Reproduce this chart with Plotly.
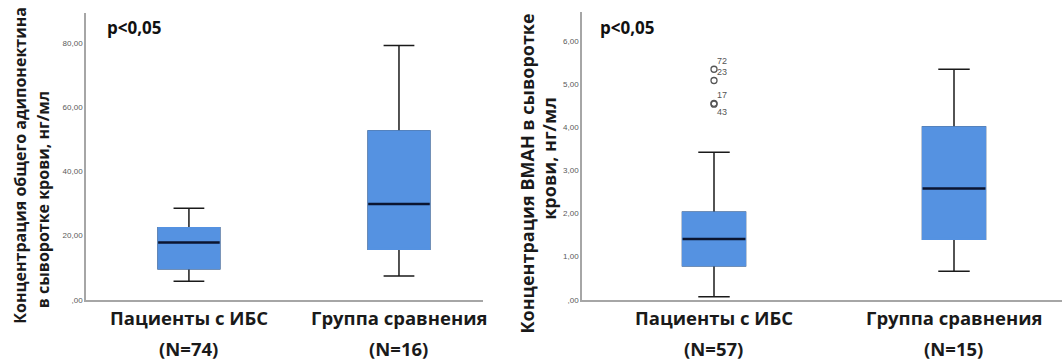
import plotly.graph_objects as go

# Group labels (two lines each)
groups_left = ["Пациенты с ИБС", "Группа сравнения"]
n_left = ["(N=74)", "(N=16)"]
groups_right = ["Пациенты с ИБС", "Группа сравнения"]
n_right = ["(N=57)", "(N=15)"]

# Total adiponectin, ng/ml: box statistics per group
adipo_low = [5.8, 7.4]
adipo_q1 = [9.7, 15.7]
adipo_med = [17.8, 29.8]
adipo_q3 = [22.4, 52.5]
adipo_high = [28.5, 79.1]

# VMAN, ng/ml: box statistics per group
vman_low = [0.07, 0.66]
vman_q1 = [0.79, 1.40]
vman_med = [1.41, 2.58]
vman_q3 = [2.03, 4.00]
vman_high = [3.42, 5.34]

# Outliers in the first VMAN group with their case numbers
vman_out_vals = [5.34, 5.08, 4.55, 4.53]
vman_out_ids = ["72", "23", "17", "43"]
vman_out_shift = [8, 8, 8, -8]

# Axis ticks
adipo_ticks = [0, 20, 40, 60, 80]
adipo_ticktext = [",00", "20,00", "40,00", "60,00", "80,00"]
vman_ticks = [0, 1, 2, 3, 4, 5, 6]
vman_ticktext = [",00", "1,00", "2,00", "3,00", "4,00", "5,00", "6,00"]

W, H = 1062, 363
BLUE = "#5592e1"
MEDIAN = "#0b1530"
AXIS = "#a6a6a6"
LABEL_FONT = "Open Sans"

fig = go.Figure()


def add_boxes(xa, ya, low, q1, med, q3, high, width):
    xs = [0, 1]
    # whiskers, caps and box
    fig.add_trace(go.Box(
        x=xs, q1=q1, median=med, q3=q3, lowerfence=low, upperfence=high,
        xaxis=xa, yaxis=ya, width=width, whiskerwidth=0.5,
        fillcolor=BLUE, line=dict(color="#1a1a1a", width=1.5),
        boxpoints=False, hoverinfo="skip", showlegend=False))
    # flat blue body over the outline
    fig.add_trace(go.Box(
        x=xs, q1=q1, median=q1, q3=q3, lowerfence=q1, upperfence=q3,
        xaxis=xa, yaxis=ya, width=width, whiskerwidth=0,
        fillcolor=BLUE, line=dict(color=BLUE, width=1.5),
        boxpoints=False, hoverinfo="skip", showlegend=False))
    # median bar
    fig.add_trace(go.Box(
        x=xs, q1=med, median=med, q3=med, lowerfence=med, upperfence=med,
        xaxis=xa, yaxis=ya, width=width, whiskerwidth=0,
        fillcolor=MEDIAN, line=dict(color=MEDIAN, width=2.5),
        boxpoints=False, hoverinfo="skip", showlegend=False))


add_boxes("x", "y", adipo_low, adipo_q1, adipo_med, adipo_q3, adipo_high, 0.293)
add_boxes("x2", "y2", vman_low, vman_q1, vman_med, vman_q3, vman_high, 0.262)

fig.add_trace(go.Scatter(
    x=[0] * len(vman_out_vals), y=vman_out_vals, xaxis="x2", yaxis="y2",
    mode="markers", marker=dict(symbol="circle-open", size=6,
                                color="#555555", line=dict(width=1.3)),
    hoverinfo="skip", showlegend=False))

annotations = []
for val, cid, sh in zip(vman_out_vals, vman_out_ids, vman_out_shift):
    annotations.append(dict(
        x=0, y=val, xref="x2", yref="y2", text=cid, showarrow=False,
        xshift=8, yshift=sh, font=dict(family="Arial", size=9, color="#555555")))

label_font = dict(family=LABEL_FONT, size=18.5, color="#1a1a1a", weight=700)
for xa, names, ns in (("x", groups_left, n_left), ("x2", groups_right, n_right)):
    for i, (name, n) in enumerate(zip(names, ns)):
        annotations.append(dict(x=i, y=1 - 321.5 / H, xref=xa, yref="paper",
                                text=name, showarrow=False, yanchor="middle",
                                font=label_font))
        annotations.append(dict(x=i, y=1 - 353 / H, xref=xa, yref="paper",
                                text=n, showarrow=False, yanchor="middle",
                                font=label_font))

for text, px, py, size in (
        ("Концентрация общего адипонектина", 20, 168, 16),
        ("в сыворотке крови, нг/мл", 43, 203, 16),
        ("Концентрация ВМАН в сыворотке", 527, 176, 18),
        ("крови, нг/мл", 549, 161, 18)):
    annotations.append(dict(x=px / W, y=1 - py / H, xref="paper", yref="paper",
                            text=text, showarrow=False, textangle=-90,
                            xanchor="center", yanchor="middle",
                            font=dict(family=LABEL_FONT, size=size,
                                      color="#1a1a1a", weight=700)))

for px in (105, 598):
    annotations.append(dict(x=px / W, y=1 - 28 / H, xref="paper", yref="paper",
                            text="p<0,05", showarrow=False, xanchor="left",
                            yanchor="middle",
                            font=dict(family=LABEL_FONT, size=17,
                                      color="#111111", weight=700)))

common_x = dict(showgrid=False, zeroline=False, showticklabels=False,
                showline=True, linecolor=AXIS, linewidth=1.5, ticks="")
common_y = dict(showgrid=False, zeroline=False, showline=True, linecolor=AXIS,
                linewidth=1.5, ticks="",
                tickfont=dict(family="Arial", size=8, color="#5a5a5a"))

fig.update_layout(
    width=W, height=H, margin=dict(l=0, r=0, t=0, b=0),
    paper_bgcolor="white", plot_bgcolor="white", boxmode="overlay",
    xaxis=dict(common_x, domain=[86 / W, 483 / W], range=[-0.49, 1.40],
               anchor="y"),
    yaxis=dict(common_y, domain=[1 - 304 / H, 1 - 13 / H], range=[0, 89.3],
               tickvals=adipo_ticks, ticktext=adipo_ticktext, anchor="x"),
    xaxis2=dict(common_x, domain=[582 / W, 1.0], range=[-0.55, 1.45],
                anchor="y2"),
    yaxis2=dict(common_y, domain=[1 - 304 / H, 1 - 12 / H], range=[0, 6.67],
                tickvals=vman_ticks, ticktext=vman_ticktext, anchor="x2"),
    annotations=annotations,
)

fig.write_html("out.html")
